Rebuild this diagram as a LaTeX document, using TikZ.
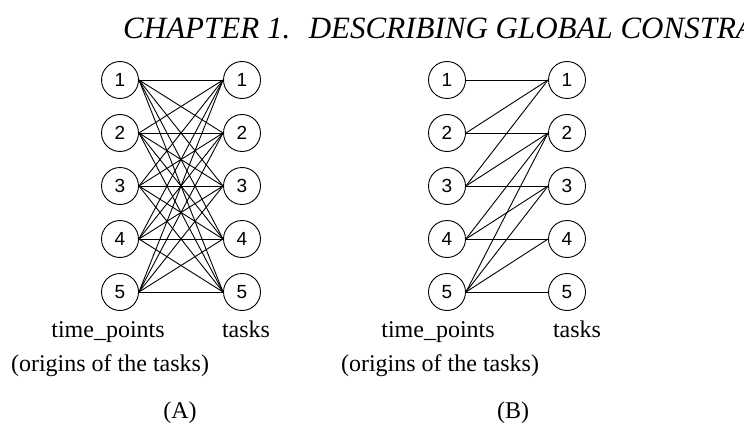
\documentclass[tikz,border=0pt]{standalone}
\usepackage{fontspec}
\setmainfont{Liberation Serif}
\newfontfamily\digitfont{Liberation Sans}
\usetikzlibrary{calc}

\tikzset{
  vtx/.style={circle, draw, line width=0.9pt, minimum size=37pt, inner sep=0pt,
    font={\digitfont\fontsize{19}{19}\selectfont}},
  edge/.style={line width=0.9pt},
  lbl/.style={font={\fontsize{24}{24}\selectfont}, anchor=base, inner sep=0pt}
}

\begin{document}
\begin{tikzpicture}[x=1pt, y=1pt]
\useasboundingbox (0,0) rectangle (744,432);
\node[anchor=base west, inner sep=0pt, font={\itshape\fontsize{31}{31}\selectfont}] (head) at (123,393) {CHAPTER 1.\hspace{0.6em}DESCRIBING GLOBAL CONSTRA};
% (A): every time point against every task
\foreach \i in {1,...,5} {
  \node[vtx] (ta\i) at (120,{405-53*\i}) {\i};
  \node[vtx] (ka\i) at (242,{405-53*\i}) {\i};
}
\foreach \i in {1,...,5}
  \foreach \j in {1,...,5}
    \draw[edge] (ta\i.east) -- (ka\j.west);
\node[lbl] (tpa) at (108,95) {time\_points};
\node[lbl] (tka) at (246,95) {tasks};
\node[lbl] (ora) at (110,61) {(origins of the tasks)};
\node[lbl] (capa) at (180,14) {(A)};
% (B): only the compatible pairs
\foreach \i in {1,...,5} {
  \node[vtx] (tb\i) at (447,{405-53*\i}) {\i};
  \node[vtx] (kb\i) at (567,{405-53*\i}) {\i};
}
\foreach \i/\j in {1/1, 2/1, 2/2, 3/1, 3/2, 3/3, 4/2, 4/3, 4/4, 5/2, 5/3, 5/4, 5/5}
  \draw[edge] (tb\i.east) -- (kb\j.west);
\node[lbl] (tpb) at (438,95) {time\_points};
\node[lbl] (tkb) at (577,95) {tasks};
\node[lbl] (orb) at (440,61) {(origins of the tasks)};
\node[lbl] (capb) at (513,14) {(B)};
\end{tikzpicture}
\end{document}
